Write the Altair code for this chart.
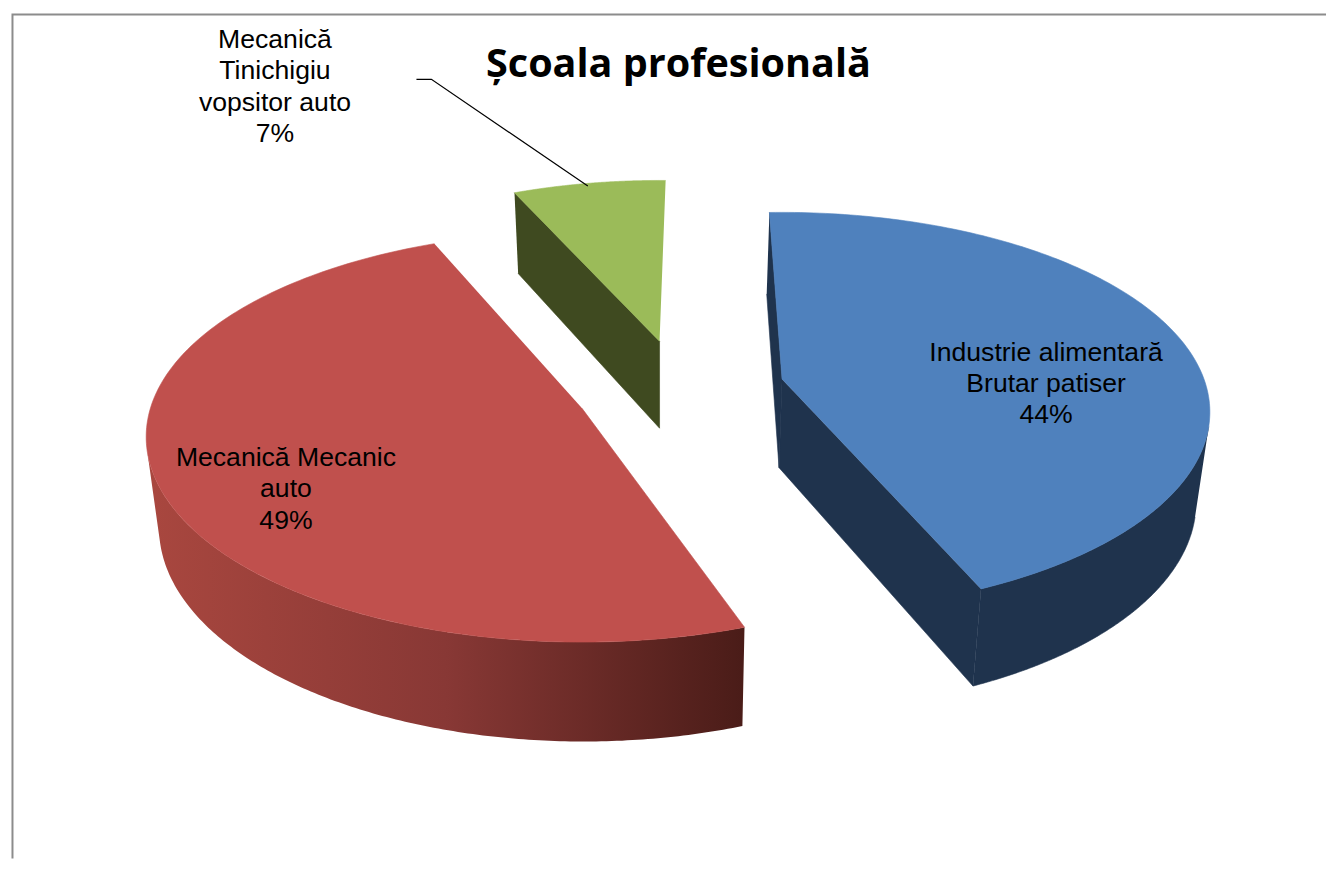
import math
import altair as alt
import pandas as pd

# Data
categories = ["Industrie alimentară Brutar patiser", "Mecanică Mecanic auto", "Mecanică Tinichigiu vopsitor auto"]
shares = [44, 49, 7]
percent_labels = ["44%", "49%", "7%"]

# Layout of the projected 3D pie (picture pixels)
W, H = 1322, 853
APEX = {"blue": (782, 378), "red": (581, 407), "green": (659, 340)}
SCALE = {"blue": 0.985, "red": 1.0, "green": 0.95}
RX = {"blue": 430.0, "red": 433.0, "green": 430.0}
RY = {"blue": 198.0, "red": 202.0, "green": 198.0}
PERSP = {"blue": 0.1646, "red": 0.14, "green": 0.1646}
VPX, SHRINK = 660.0, 0.975
DEPTH_G, DEPTH_H = 0.0417, 73.0
ROT = {"blue": -2.0, "red": 2.5, "green": 1.0}


def to_top(key, deg):
    ax, ay = APEX[key]
    s = SCALE[key]
    X, Y = math.sin(math.radians(deg)), math.cos(math.radians(deg))
    p = 1.0 / (1.0 + PERSP[key] * Y)
    return (ax + s * RX[key] * X * p, ay - s * RY[key] * Y * p)


def to_bottom(pt):
    x, y = pt
    return (VPX + (x - VPX) * SHRINK, y + DEPTH_G * y + DEPTH_H)


def angles(a, b, n=160):
    return [a + (b - a) * i / n for i in range(n + 1)]


def tangent(key, a, b):
    """Angle in [a, b] at which the rim runs parallel to the wall's vertical edge."""
    rng = angles(a, b, 720)
    prev = None
    for d in rng:
        p, q = to_top(key, d), to_top(key, d + 0.1)
        t = to_bottom(p)
        c = (q[0] - p[0]) * (t[1] - p[1]) - (q[1] - p[1]) * (t[0] - p[0])
        if prev is not None and prev * c < 0:
            return d
        prev = c
    return b


total = sum(shares)
sweep = [v / total * 360 for v in shares]
b0, b1 = ROT["blue"], ROT["blue"] + sweep[0]
r0, r1 = ROT["red"] + sweep[0], ROT["red"] + sweep[0] + sweep[1]
g0, g1 = ROT["green"] + sweep[0] + sweep[1], ROT["green"] + 360

XS = alt.Scale(domain=[8, 8 + W], range=[0, W], nice=False, zero=False)
YS = alt.Scale(domain=[8, 8 + H], range=[0, H], nice=False, zero=False)


def polygon(points, fill):
    df = pd.DataFrame({"x": [p[0] for p in points], "y": [p[1] for p in points], "i": range(len(points))})
    is_flat = isinstance(fill, str)
    return alt.Chart(df).mark_line(fill=fill, stroke=fill if is_flat else "#6f2c2a",
                                   strokeWidth=0.6 if is_flat else 0).encode(
        x=alt.X("x:Q", scale=XS, axis=None),
        y=alt.Y("y:Q", scale=YS, axis=None),
        order=alt.Order("i:Q"),
    )


def wall(key, a, b):
    top = [to_top(key, d) for d in angles(a, b)]
    return top + [to_bottom(p) for p in reversed(top)]


def face(key, deg):
    rim = to_top(key, deg)
    apex = APEX[key]
    return [rim, apex, to_bottom(apex), to_bottom(rim)]


def top(key, a, b):
    return [APEX[key]] + [to_top(key, d) for d in angles(a, b)]


BLUE, BLUE_D = "#4F81BD", "#1F334D"
RED, GREEN, GREEN_D = "#C0504D", "#9BBB59", "#3F4A20"
RED_WALL = alt.Gradient(
    gradient="linear", x1=0, x2=1, y1=0, y2=0,
    stops=[alt.GradientStop(offset=0, color="#A9473F"),
           alt.GradientStop(offset=0.5, color="#883835"),
           alt.GradientStop(offset=1, color="#4A1C18")],
)

layers = [
    polygon(face("green", g0), GREEN_D),
    polygon(top("green", g0, g1), GREEN),
    polygon(wall("red", r0, tangent("red", r0 + 40, r1)), RED_WALL),
    polygon(top("red", r0, r1), RED),
    polygon(face("blue", b0), BLUE_D),
    polygon(face("blue", b1), BLUE_D),
    polygon(wall("blue", tangent("blue", b0 + 20, b1), b1), BLUE_D),
    polygon(top("blue", b0, b1), BLUE),
]

# Chart frame: top and left edges only
frame = pd.DataFrame({"x": [9.5, 9.5, 1328], "y": [859, 12, 12], "i": [0, 1, 2]})
layers.append(alt.Chart(frame).mark_line(color="#8C8C8C", strokeWidth=2).encode(
    x=alt.X("x:Q", scale=XS, axis=None), y=alt.Y("y:Q", scale=YS, axis=None), order="i:Q"))

leader = pd.DataFrame({"x": [415, 430, 587], "y": [77, 77, 184], "i": [0, 1, 2]})
layers.append(alt.Chart(leader).mark_line(color="#000000", strokeWidth=1.2).encode(
    x=alt.X("x:Q", scale=XS, axis=None), y=alt.Y("y:Q", scale=YS, axis=None), order="i:Q"))

label_rows = pd.DataFrame({
    "t": ["Mecanică", "Tinichigiu", "vopsitor auto", percent_labels[2],
          "Industrie alimentară", "Brutar patiser", percent_labels[0],
          "Mecanică Mecanic", "auto", percent_labels[1]],
    "x": [273, 273, 273, 273, 1047, 1047, 1047, 284, 284, 284],
    "y": [38, 69, 101, 132, 352, 383, 414, 457, 488, 520],
})
layers.append(alt.Chart(label_rows).mark_text(font="Liberation Sans", fontSize=26.7, color="#000000", align="center", baseline="middle").encode(
    x=alt.X("x:Q", scale=XS, axis=None), y=alt.Y("y:Q", scale=YS, axis=None), text="t:N"))

title_row = pd.DataFrame({"t": ["Școala profesională"], "x": [678], "y": [63]})
layers.append(alt.Chart(title_row).mark_text(font="Open Sans", fontSize=39.7, fontWeight="bold", color="#000000", align="center", baseline="middle").encode(
    x=alt.X("x:Q", scale=XS, axis=None), y=alt.Y("y:Q", scale=YS, axis=None), text="t:N"))

chart = alt.layer(*layers).properties(
    width=W, height=H, padding=0, background="#FFFFFF",
).configure_view(stroke=None)

chart.save("out.html", embed_options={"renderer": "svg", "actions": False})
